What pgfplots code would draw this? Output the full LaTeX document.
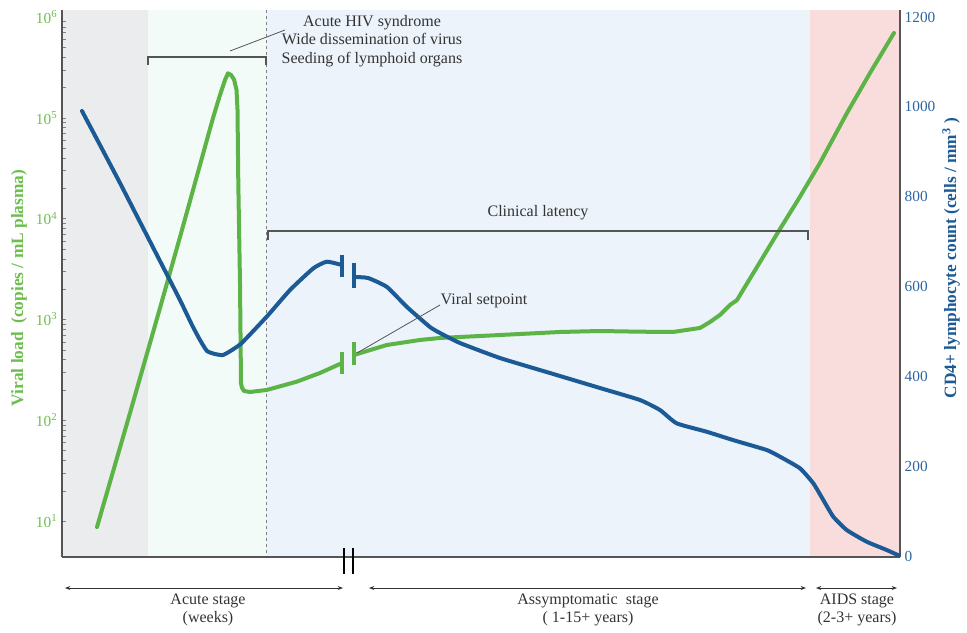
\documentclass[border=0pt]{standalone}
\usepackage{pgfplots}
\pgfplotsset{compat=1.18}
\usepackage{fontspec}
\setmainfont{Liberation Serif}
\usetikzlibrary{arrows.meta}
\definecolor{bggray}{HTML}{EBECEE}
\definecolor{bgmint}{HTML}{F3FBF8}
\definecolor{bgblue}{HTML}{ECF3FB}
\definecolor{bgpink}{HTML}{F9DDDD}
\definecolor{vgreen}{HTML}{5CB346}
\definecolor{tickgreen}{HTML}{6DBE4F}
\definecolor{cdblue}{HTML}{1C5A95}
\definecolor{tickblue}{HTML}{2E64A0}
\definecolor{axisgray}{HTML}{555555}
\definecolor{txt}{HTML}{333333}

\begin{document}
\begin{tikzpicture}
\begin{scope}[x=0.75pt,y=-0.75pt]
\useasboundingbox (0,0) rectangle (967,632);
\fill[bggray] (62,10) rectangle (148,557);
\fill[bgmint] (148,10) rectangle (266,557);
\fill[bgblue] (266,10) rectangle (810,557);
\fill[bgpink] (810,10) rectangle (900,557);
\draw[gray, line width=0.6pt, dash pattern=on 2.5pt off 2pt] (266,10) -- (266,557);
\end{scope}

% Left axis: viral load (log)
\begin{axis}[
  scale only axis, width=628.5pt, height=410.25pt,
  at={(46.5pt,-417.75pt)}, anchor=south west,
  xmin=62, xmax=900, ymode=log, ymin=4.395, ymax=1172000,
  axis x line*=bottom, axis y line*=left,
  axis line style={-, draw=axisgray, line width=1.5pt},
  xtick=\empty, ytick={10,100,1000,10000,100000,1000000},
  yticklabels={10\textsuperscript{1},10\textsuperscript{2},10\textsuperscript{3},10\textsuperscript{4},10\textsuperscript{5},10\textsuperscript{6}},
  yticklabel style={text=tickgreen, font=\fontsize{11.5}{12}\selectfont},
  major tick length=0pt,
]
\addplot[vgreen, line width=3pt, line cap=round, line join=round] coordinates {
(97,8.71) (130,117.8) (160,1297) (180,6561) (200,34040) (213,99540) (220,168300)
(225,237100) (228,276100) (231,266000) (234,240000) (236.5,190000) (237.5,120000) (238.3,22540)
(240,2296) (241,233.9) (241.8,212) (244,195) (250,190.5) (266.7,199.5)
(296.7,241) (320,294) (342,369)
};
\addplot[vgreen, line width=3pt, line cap=round, line join=round] coordinates {
(354,443.6) (386.7,557) (420,625) (440,654) (500,700) (560,750) (600,767)
(640,755) (673,750) (700,822) (710,942) (720,1107) (730,1390) (737,1556)
(760,3707) (780,7889) (798,15310) (820,35650) (847,111700) (870,278000) (894,693400)
};
\end{axis}

% Right axis: CD4 count
\begin{axis}[
  scale only axis, width=628.5pt, height=410.25pt,
  at={(46.5pt,-417.75pt)}, anchor=south west,
  xmin=62, xmax=900, ymin=-2.2, ymax=1215.6,
  axis x line=none, axis y line*=right,
  axis line style={-, draw=axisgray, line width=1.5pt},
  ytick={0,200,400,600,800,1000,1200},
  yticklabels={0,200,400,600,800,1000,1200},
  yticklabel style={text=tickblue, font=\fontsize{11.5}{12}\selectfont},
  major tick length=0pt,
]
\addplot[cdblue, line width=3pt, line cap=round, line join=round, smooth, tension=0.3] coordinates {
(82,990.7) (100,915.0) (120,830.4) (140,743.6) (160,656.8) (180,569.9) (192,514.3)
(200,480.9) (207,456.4) (215,449.7) (223,447.5) (232,458.6) (241.7,474.2)
(266.7,532.8) (290,592.2) (313.3,640.5) (326.7,655.2) (342,647.9)
};
\addplot[cdblue, line width=3pt, line cap=round, line join=round, smooth, tension=0.3] coordinates {
(354,621.1) (368,619) (387,598.9) (407,554.3) (430,509.8) (440,496.5) (460,474.2)
(500,440.8) (550,407.4) (600,374.0) (640,347.3) (660,325.0) (676.7,295.4)
(706.7,276.7) (733,258.2) (766.7,236.0) (780,221.1) (800,195.2) (813.3,161.9)
(823.3,124.7) (833.3,87.5) (846.7,57.9) (866.7,31.8) (886.7,13.4) (900,0)
};
\end{axis}

\begin{scope}[x=0.75pt,y=-0.75pt, font=\fontsize{12}{14}\selectfont]
% break marks on curves
\draw[vgreen, line width=2.5pt] (342,352) -- (342,374) (354,342) -- (354,365);
\draw[cdblue, line width=2.5pt] (342,255) -- (342,277) (354,263) -- (354,288);
% x-axis break
\draw[black, line width=2.2pt] (344,548) -- (344,574) (353,548) -- (353,574);
% acute HIV bracket
\draw[axisgray, line width=0.8pt] (148,65) -- (148,57) -- (266,57) -- (266,65);
\draw[axisgray, line width=0.6pt] (230,51) -- (285,30);
\node[txt, align=center] at (372,41) {Acute HIV syndrome\\Wide dissemination of virus\\Seeding of lymphoid organs};
% clinical latency bracket
\draw[axisgray, line width=0.8pt] (268,240) -- (268,231) -- (808,231) -- (808,240);
\node[txt] at (538,213) {Clinical latency};
% viral setpoint
\draw[axisgray, line width=0.6pt] (357,353) -- (440,305);
\node[txt, anchor=west] at (436,301) {Viral setpoint};
% stage arrows
\draw[{Stealth[length=4pt,width=3pt]}-{Stealth[length=4pt,width=3pt]}, line width=0.6pt, txt] (65,588) -- (343,588);
\draw[{Stealth[length=4pt,width=3pt]}-{Stealth[length=4pt,width=3pt]}, line width=0.6pt, txt] (369,588) -- (806,588);
\draw[{Stealth[length=4pt,width=3pt]}-{Stealth[length=4pt,width=3pt]}, line width=0.6pt, txt] (816,588) -- (897,588);
\node[txt, align=center] at (208,610) {Acute stage\\(weeks)};
\node[txt, align=center] at (588,610) {Assymptomatic\ \ stage\\( 1-15+ years)};
\node[txt, align=center] at (857,610) {AIDS stage\\(2-3+ years)};
% axis labels
\node[rotate=90, text=tickgreen, font=\bfseries\fontsize{13}{14}\selectfont] at (19,288) {Viral load\ \ (copies / mL plasma)};
\node[rotate=90, text=cdblue, font=\bfseries\fontsize{13}{14}\selectfont] at (951,258) {CD4+ lymphocyte count (cells / mm\textsuperscript{3} )};
\end{scope}
\end{tikzpicture}
\end{document}
